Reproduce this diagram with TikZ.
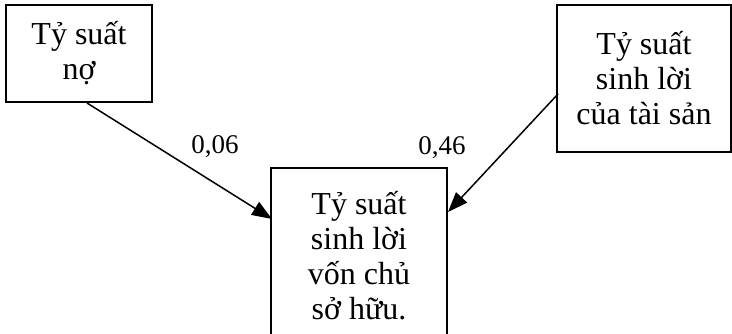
\documentclass[tikz,border=0pt]{standalone}
\usepackage{fontspec}
\setmainfont{Liberation Serif}
\usetikzlibrary{arrows.meta,calc}
\tikzset{
  box/.style={draw, line width=2pt, rectangle, inner sep=0pt, align=center,
    font=\fontsize{32}{35}\selectfont},
  link/.style={line width=1.5pt, -{Triangle[length=20pt,width=15pt]}},
  weight/.style={font=\fontsize{27}{30}\selectfont, inner sep=0pt}
}
\begin{document}
\begin{tikzpicture}[x=1pt,y=-1pt]
  \useasboundingbox (0,0) rectangle (732,334);
  \clip (0,0) rectangle (732,334);
  \node[box, minimum width=146pt, minimum height=97pt] (debt) at (79,53.5)
    {Tỷ suất\\nợ};
  \node[box, minimum width=174pt, minimum height=147pt] (roa) at (644,78.5)
    {Tỷ suất\\sinh lời\\của tài sản};
  \node[box, minimum width=176pt, minimum height=176pt] (roe) at (359,256)
    {Tỷ suất\\sinh lời\\vốn chủ\\sở hữu.};
  \coordinate (debtout) at ($(debt.south west)+(82,0)$);
  \coordinate (roein) at ($(roe.north west)+(2,52)$);
  \coordinate (roaout) at ($(roa.north west)+(2,90)$);
  \coordinate (roein2) at ($(roe.north east)+(0,45)$);
  \draw[link] (debtout) -- (roein);
  \draw[link] (roaout) -- (roein2);
  \node[weight] (w1) at (215,147) {0,06};
  \node[weight] (w2) at (442,148) {0,46};
\end{tikzpicture}
\end{document}
